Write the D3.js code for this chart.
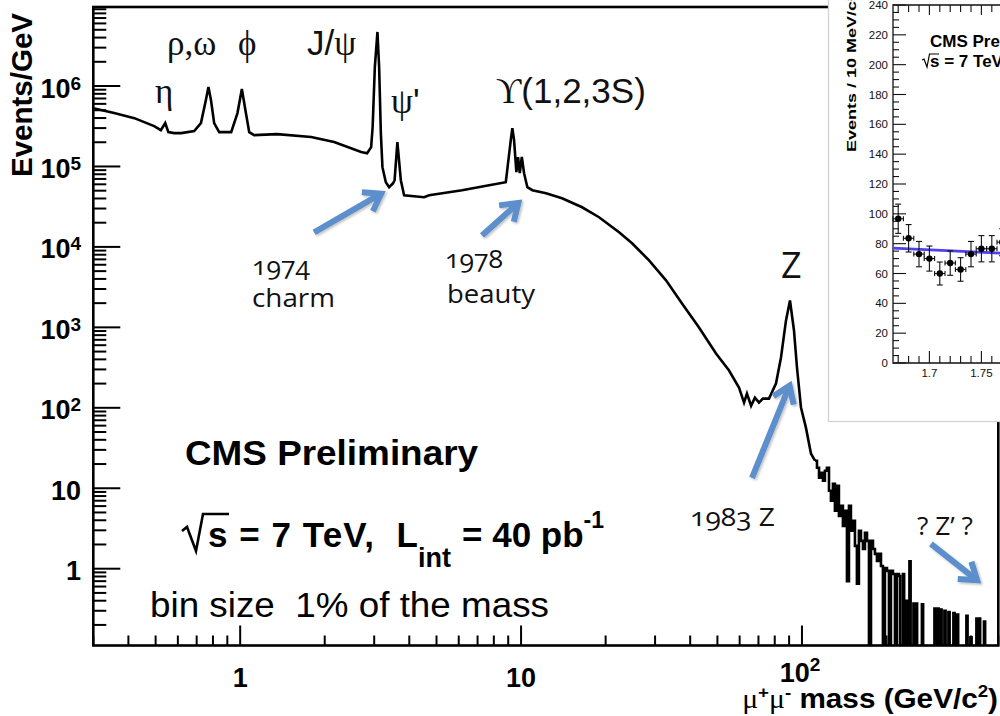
<!DOCTYPE html>
<html><head><meta charset="utf-8">
<script src="https://cdn.jsdelivr.net/npm/d3@7"></script>
<style>body{margin:0;background:#fff}svg{display:block}</style>
</head><body>
<svg id="c" width="1000" height="716"></svg>
<script>
// ---- main dimuon spectrum (events/GeV vs mass, GeV) ----
const mass = [0.30,0.356,0.420,0.494,0.522,0.541,0.555,0.582,0.617,0.686,0.725,0.755,0.771,0.787,0.808,0.842,0.929,0.978,1.014,1.048,1.077,1.121,1.354,1.789,2.160,2.696,2.831,2.926,2.962,3.016,3.081,3.124,3.168,3.210,3.300,3.390,3.503,3.546,3.628,3.732,3.834,4.516,4.706,6.166,7.692,8.823,9.191,9.311,9.442,9.623,9.757,9.894,10.06,10.25,10.53,10.97,12.27,13.99,16.49,18.95,22.33,24.84,28.55,32.81,37.41,43.00,49.43,55.00,59.68,62.2,63.7,65.9,68.0,70.31,72.6,76.31,80.82,84.20,87.73,90.65,93.67,96.0,99.2,103.3,107.7,111.3];
const events = [5.3e5,4.61e5,3.99e5,3.18e5,2.83e5,3.46e5,2.67e5,2.60e5,2.60e5,2.75e5,3.46e5,6.69e5,9.72e5,6.69e5,3.46e5,2.67e5,2.67e5,4.61e5,9.18e5,4.61e5,2.67e5,2.45e5,2.52e5,2.32e5,2.01e5,1.51e5,1.46e5,1.74e5,3.09e5,1.72e6,4.70e6,1.72e6,2.60e5,9.80e4,6.37e4,5.52e4,6.19e4,6.75e4,2.01e5,6.75e4,4.39e4,4.15e4,4.39e4,5.07e4,5.85e4,6.37e4,2.13e5,3.00e5,2.13e5,8.49e4,1.31e5,8.25e4,1.31e5,8.25e4,5.52e4,5.07e4,4.65e4,4.03e4,3.11e4,2.34e4,1.52e4,1.11e4,6810,3840,1980,997,473,291,178,116,150,106,134,116,130,130,200,422,1220,2160,915,317,101,56.7,26.9,22.0];
// high-mass tail: bin low edges (GeV) and events/GeV in each (0 = empty bins)
const tailEdge = [111.3,113.1,115.0,116.8,118.8,120.7,122.7,124.8,126.8,128.9,131.0,133.2,135.4,137.6,139.9,142.2,144.6,147.0,149.4,151.9,154.4,156.9,159.5,162.2,164.9,167.6,170.4,173.2,176.1,179.0,181.9,184.9,187.9,191.1,194.2,197.4,200.7,204.0,207.4,210.8,214.3,217.8,221.4,223.6,228.8,231.1,234.5,236.8,241.3,243.7,249.4,251.9,254.5,257.0,267.3,270.0,296.2,299.2,303.5,306.5,311.1,314.2,321.4,324.6,332.2,335.5,346.0,349.5,356.2,359.8,384.9,388.7,397.7,401.7,417.8,422.0,426.6,430.9,444.5,448.9,500];
const tailEvents = [22.0,18.0,13.5,15.6,12.4,16.5,18.0,9.31,6.99,11.4,5.25,10.7,4.54,6.05,3.41,5.25,0.70,6.05,2.96,3.94,1.92,0.65,2.96,2.22,1.76,2.79,2.22,0,2.22,1.76,1.53,1.25,1.53,1.08,0,1.02,0.94,0,0.94,0.86,0,0.86,0.81,0,0.86,0,0.40,0,1.24,0,0.37,0,0.37,0,0.36,0,0.32,0,0.32,0,0.31,0,0.30,0,0.29,0,0.28,0,0.27,0,0.26,0,0.14,0,0.24,0,0.24,0,0.22,0,0];
// axis labels
const yMajor = [1,10,100,1e3,1e4,1e5,1e6];
const yLabelBase = ["1","10","10","10","10","10","10"];
const yLabelExp  = ["","","2","3","4","5","6"];
const xMajor = [1,10,100];
const xLabelBase = ["1","10","10"];
const xLabelExp  = ["","","2"];
// ---- inset: zoom near 1.7 GeV ----
const insetMass = [1.67,1.68,1.69,1.70,1.71,1.72,1.73,1.74,1.75,1.76,1.77];
const insetEvents = [96.7,83.6,73,70,60,67,62.7,73,76.6,76.6,81];
const insetErr = [9.8,9.2,8.5,8.4,7.7,8.2,7.9,8.5,8.8,8.8,9.0];
const fitMass = [1.665,1.80];
const fitEvents = [77,72.6];

const svg = d3.select("#c");
const SANS = "'Liberation Sans', Arial, Helvetica, sans-serif";
const SERIF = "'Liberation Serif', 'DejaVu Serif', 'Times New Roman', serif";
const ANN = "'Open Sans', Calibri, sans-serif";

const x = d3.scaleLog().domain([0.3,500]).range([93.3,998.3]);
const y = d3.scaleLog().domain([0.111,9.6e6]).range([645.5,7]);
const L = 93.3, R = 998.3, T = 7, B = 645.5;
const isMaj = v => Math.abs(Math.log10(v) - Math.round(Math.log10(v))) < 1e-9;

const defs = svg.append("defs");
defs.append("clipPath").attr("id","pc").append("rect").attr("x",L).attr("y",T).attr("width",R-L).attr("height",B-T);
const sh = defs.append("filter").attr("id","sh").attr("x","-20%").attr("y","-20%").attr("width","140%").attr("height","140%");
sh.append("feDropShadow").attr("dx",1.5).attr("dy",1.5).attr("stdDeviation",1.2).attr("flood-color","#000").attr("flood-opacity",0.25);

// ticks
svg.append("g").selectAll("line").data(y.ticks()).join("line")
  .attr("x1",L).attr("x2",d=>L+(isMaj(d)?27:13)).attr("y1",d=>y(d)).attr("y2",d=>y(d))
  .attr("stroke","#000").attr("stroke-width",2);
svg.append("g").selectAll("line").data(x.ticks()).join("line")
  .attr("y1",B).attr("y2",d=>B-(isMaj(d)?20:10)).attr("x1",d=>x(d)).attr("x2",d=>x(d))
  .attr("stroke","#000").attr("stroke-width",2);

// y labels
yMajor.forEach((v,i)=>{
  const t = svg.append("text").attr("x",81).attr("y",y(v)+11.5).attr("text-anchor","end")
    .attr("font-family",SANS).attr("font-weight","bold").attr("font-size",27).attr("fill","#000");
  t.append("tspan").text(yLabelBase[i]);
  if (yLabelExp[i]) t.append("tspan").attr("dy",-8).attr("font-size",19).text(yLabelExp[i]);
});
// x labels
xMajor.forEach((v,i)=>{
  const hasExp = !!xLabelExp[i];
  const t = svg.append("text").attr("x",x(v)+(hasExp?-2:0)).attr("y",hasExp?682:687).attr("text-anchor","middle")
    .attr("font-family",SANS).attr("font-weight","bold").attr("font-size",27).attr("fill","#000");
  t.append("tspan").text(xLabelBase[i]);
  if (hasExp) t.append("tspan").attr("dy",-11).attr("font-size",19).text(xLabelExp[i]);
});

// axis titles
svg.append("text").attr("transform","translate(32,13) rotate(-90)").attr("text-anchor","end")
  .attr("font-family",SANS).attr("font-weight","bold").attr("font-size",29).attr("textLength",164)
  .attr("lengthAdjust","spacingAndGlyphs").text("Events/GeV");
{
  const t = svg.append("text").attr("transform","translate(998,708) scale(1.1,1)").attr("text-anchor","end")
    .attr("font-family",SANS).attr("font-weight","bold").attr("font-size",27).attr("fill","#000");
  t.append("tspan").attr("font-family",SERIF).attr("font-weight","normal").text("μ");
  t.append("tspan").attr("dy",-10).attr("font-size",17).text("+");
  t.append("tspan").attr("dy",10).attr("font-family",SERIF).attr("font-weight","normal").text("μ");
  t.append("tspan").attr("dy",-10).attr("font-size",17).text("-");
  t.append("tspan").attr("dy",10).text(" mass (GeV/c");
  t.append("tspan").attr("dy",-11).attr("font-size",17).text("2");
  t.append("tspan").attr("dy",11).text(")");
}

// histogram
const pts = mass.map((m,i)=>[m,events[i]]);
const line = d3.line().x(d=>x(d[0])).y(d=>y(d[1]));
svg.append("path").attr("d",line(pts)).attr("clip-path","url(#pc)")
  .attr("fill","none").attr("stroke","#000").attr("stroke-width",2.6).attr("stroke-linejoin","miter");
const tailPts = tailEdge.map((m,i)=>[m,tailEvents[i]]);
const step = d3.line().curve(d3.curveStepAfter).x(d=>x(d[0])).y(d=>y(Math.max(d[1],0.02)));
svg.append("path").attr("d",step(tailPts)).attr("clip-path","url(#pc)")
  .attr("fill","none").attr("stroke","#000").attr("stroke-width",2.6);

// frame
svg.append("rect").attr("x",L).attr("y",T).attr("width",R-L).attr("height",B-T)
  .attr("fill","none").attr("stroke","#000").attr("stroke-width",2.6);

// peak labels
function label(px,py,parts,size){
  const t = svg.append("text").attr("x",px).attr("y",py).attr("font-size",size).attr("fill","#111");
  parts.forEach(p=>t.append("tspan").attr("font-family",p[1]==="s"?SANS:SERIF).text(p[0]));
}
label(155,103,[["η","g"]],35);
label(167,55,[["ρ,ω","g"]],35);
label(238,55,[["\u03d5","g"]],35);
label(307,55,[["J/","s"],["ψ","g"]],35);
label(391,113,[["ψ","g"],["'","s"]],35);
label(496,103,[["\u03d2","g"],["(1,2,3S)","s"]],35);

// CMS text
svg.append("text").attr("x",185).attr("y",465).attr("font-family",SANS).attr("font-weight","bold")
  .attr("font-size",35).attr("textLength",293).attr("lengthAdjust","spacingAndGlyphs").text("CMS Preliminary");
svg.append("path").attr("d","M182,531 L187,527 L196,551 L203,514 L229,514").attr("fill","none")
  .attr("stroke","#000").attr("stroke-width",2.6);
svg.append("text").attr("x",208).attr("y",547).attr("font-family",SANS).attr("font-weight","bold")
  .attr("font-size",35).attr("textLength",210).attr("lengthAdjust","spacing").text("s = 7 TeV,\u00a0\u00a0L");
svg.append("text").attr("x",418).attr("y",567).attr("font-family",SANS).attr("font-weight","bold")
  .attr("font-size",27).text("int");
{
  const t = svg.append("text").attr("x",462).attr("y",547).attr("font-family",SANS).attr("font-weight","bold").attr("font-size",35);
  t.append("tspan").text("= 40 pb");
  t.append("tspan").attr("dy",-19).attr("font-size",23).text("-1");
}
svg.append("text").attr("x",150).attr("y",617).attr("font-family",SANS).attr("font-size",35)
  .attr("textLength",399).attr("lengthAdjust","spacingAndGlyphs").text("bin size\u00a0\u00a01% of the mass");

// annotations
function ann(px,py,txt,size,len){
  const t = svg.append("text").attr("x",px).attr("y",py).attr("font-family",ANN).attr("font-size",size)
    .attr("fill","#111").style("font-variant-numeric","oldstyle-nums").text(txt);
  if (len) t.attr("textLength",len).attr("lengthAdjust","spacingAndGlyphs");
}
ann(252,275,"1974",26,58);
ann(252,307,"charm",26,83);
ann(445,268,"1978",26,58);
ann(447,303,"beauty",26,88);
ann(781,278,"Z",36);
ann(690,526,"1983 Z",26,85);
ann(917,535,"? Z\u2019 ?",26,56);

// arrows (data-space endpoints: tail -> tip)
const arrows = [
  [[1.834,1.52e4],[3.20,4.65e4]],
  [[7.26,1.39e4],[9.84,3.59e4]],
  [[66.4,13.5],[90.6,194]],
  [[287.8,2.04],[423,0.705]]
];
const AC = "#5b8fcb";
arrows.forEach(([a,b])=>{
  const x1=x(a[0]),y1=y(a[1]),x2=x(b[0]),y2=y(b[1]);
  const ang=Math.atan2(y2-y1,x2-x1)*180/Math.PI, len=Math.hypot(x2-x1,y2-y1);
  const g = svg.append("g").attr("filter","url(#sh)").append("g").attr("transform",`translate(${x2},${y2}) rotate(${ang})`);
  g.append("line").attr("x1",-len).attr("x2",-3).attr("y1",0).attr("y2",0).attr("stroke",AC).attr("stroke-width",6);
  g.append("path").attr("d","M-17,-11 L-1,0 L-17,11").attr("fill","none").attr("stroke",AC)
    .attr("stroke-width",6).attr("stroke-linejoin","miter");
});

// ---- inset ----
const ix = d3.scaleLinear().domain([1.665,1.80]).range([893,1033.4]);
const iy = d3.scaleLinear().domain([0,240]).range([363,5]);
svg.append("rect").attr("x",828.5).attr("y",-3).attr("width",200).attr("height",424.5)
  .attr("fill","#fff").attr("stroke","#d2d2d2").attr("stroke-width",1.3);
const ig = svg.append("g");
ig.selectAll(".iyt").data(iy.ticks(48)).join("line")
  .attr("x1",893).attr("x2",d=>893+(d%20===0?13:6)).attr("y1",d=>iy(d)).attr("y2",d=>iy(d))
  .attr("stroke","#111").attr("stroke-width",1.1);
const ixt = ix.ticks(14);
const imaj = d=>Math.round(d*100)%5===0;
ig.selectAll(".ixb").data(ixt).join("line").attr("x1",d=>ix(d)).attr("x2",d=>ix(d))
  .attr("y1",363).attr("y2",d=>363-(imaj(d)?12:7)).attr("stroke","#111").attr("stroke-width",1.1);
ig.selectAll(".ixt").data(ixt).join("line").attr("x1",d=>ix(d)).attr("x2",d=>ix(d))
  .attr("y1",5).attr("y2",d=>5+(imaj(d)?10:7)).attr("stroke","#111").attr("stroke-width",1.1);
ig.append("path").attr("d","M1005,5 L893,5 L893,363 L1005,363").attr("fill","none").attr("stroke","#111").attr("stroke-width",1.3);
ig.selectAll(".iyl").data(iy.ticks(12)).join("text").attr("x",888).attr("y",d=>iy(d)+4)
  .attr("text-anchor","end").attr("font-family",SANS).attr("font-size",11.5).attr("fill","#111").text(d=>d);
ig.selectAll(".ixl").data(ixt.filter(imaj)).join("text").attr("x",d=>ix(d)).attr("y",377)
  .attr("text-anchor","middle").attr("font-family",SANS).attr("font-size",11.5).attr("fill","#111")
  .text(d=>String(+d.toFixed(2)));
ig.append("text").attr("transform","translate(856,152) rotate(-90)").attr("font-family",SANS)
  .attr("font-weight","bold").attr("font-size",13).attr("textLength",157).attr("lengthAdjust","spacingAndGlyphs")
  .text("Events / 10 MeV/c\u00b2");
// fit line
ig.append("path").attr("d",d3.line().x(d=>ix(d[0])).y(d=>iy(d[1]))(fitMass.map((m,i)=>[m,fitEvents[i]])))
  .attr("stroke","#4f3ff0").attr("stroke-width",2.8).attr("fill","none");
// points with error bars
const ipts = insetMass.map((m,i)=>({m,v:insetEvents[i],e:insetErr[i]}));
const half = 0.005;
const pg = ig.selectAll(".ip").data(ipts).join("g");
const eb = (sel)=>sel.attr("stroke","#111").attr("stroke-width",1.1);
eb(pg.append("line").attr("x1",d=>ix(d.m)).attr("x2",d=>ix(d.m)).attr("y1",d=>iy(d.v-d.e)).attr("y2",d=>iy(d.v+d.e)));
eb(pg.append("line").attr("x1",d=>ix(d.m-half)).attr("x2",d=>ix(d.m+half)).attr("y1",d=>iy(d.v)).attr("y2",d=>iy(d.v)));
eb(pg.append("line").attr("x1",d=>ix(d.m)-3).attr("x2",d=>ix(d.m)+3).attr("y1",d=>iy(d.v+d.e)).attr("y2",d=>iy(d.v+d.e)));
eb(pg.append("line").attr("x1",d=>ix(d.m)-3).attr("x2",d=>ix(d.m)+3).attr("y1",d=>iy(d.v-d.e)).attr("y2",d=>iy(d.v-d.e)));
eb(pg.append("line").attr("x1",d=>ix(d.m-half)).attr("x2",d=>ix(d.m-half)).attr("y1",d=>iy(d.v)-2.5).attr("y2",d=>iy(d.v)+2.5));
eb(pg.append("line").attr("x1",d=>ix(d.m+half)).attr("x2",d=>ix(d.m+half)).attr("y1",d=>iy(d.v)-2.5).attr("y2",d=>iy(d.v)+2.5));
pg.append("circle").attr("cx",d=>ix(d.m)).attr("cy",d=>iy(d.v)).attr("r",3.2).attr("fill","#000");
// inset texts
ig.append("text").attr("x",930).attr("y",47).attr("font-family",SANS).attr("font-weight","bold").attr("font-size",17).text("CMS Preliminary");
ig.append("path").attr("d","M922,60 L924,59 L927,67 L929.5,54 L939,54").attr("fill","none").attr("stroke","#000").attr("stroke-width",1.2);
ig.append("text").attr("x",930).attr("y",67).attr("font-family",SANS).attr("font-weight","bold").attr("font-size",17).text("s = 7 TeV");
</script>
</body></html>
